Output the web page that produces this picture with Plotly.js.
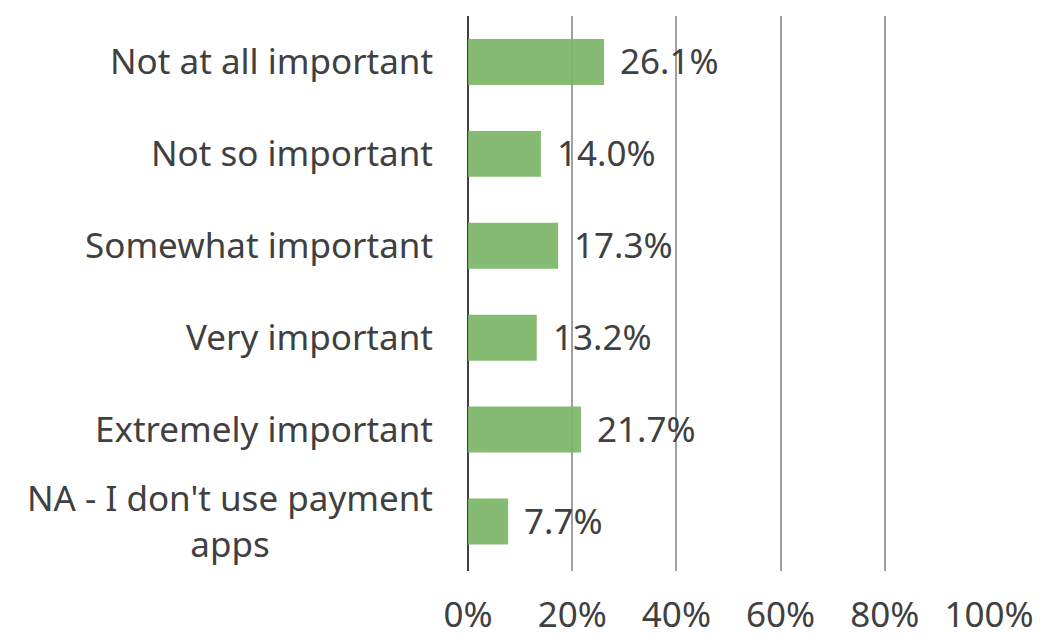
<!DOCTYPE html>
<html>
<head>
<meta charset="utf-8">
<script src="https://cdn.plot.ly/plotly-3.0.1.min.js"></script>
<style>html,body{margin:0;padding:0;background:#fff;}#chart{width:1040px;height:637px;}</style>
</head>
<body>
<div id="chart"></div>
<script>
const categories = ["Not at all important", "Not so important", "Somewhat important", "Very important", "Extremely important", "NA - I don't use payment<br>apps"];
const values = [26.1, 14.0, 17.3, 13.2, 21.7, 7.7];
const tickValues = [0, 20, 40, 60, 80, 100];
const tickLabels = ["0%", "20%", "40%", "60%", "80%", "100%"];

const FONT = "Tahoma, 'Noto Sans', 'DejaVu Sans', sans-serif";
const TXT = "#404040";
const FS = 35;

const trace = {
  type: "bar",
  orientation: "h",
  x: values,
  y: categories,
  marker: {color: "rgba(120,180,100,0.9)"},
  hoverinfo: "x+y"
};

const annotations = [];
values.forEach((v, i) => {
  annotations.push({
    x: v, y: categories[i], xref: "x", yref: "y",
    text: v.toFixed(1) + "%", showarrow: false,
    xanchor: "left", yanchor: "middle", xshift: 14, yshift: 1,
    font: {family: FONT, size: FS, color: TXT}
  });
  annotations.push({
    x: 0, y: categories[i], xref: "paper", yref: "y",
    text: categories[i], showarrow: false,
    xanchor: "right", yanchor: "middle", xshift: -33, yshift: 1, align: "center",
    font: {family: FONT, size: FS, color: TXT}
  });
});

const layout = {
  width: 1040, height: 637,
  margin: {l: 468, r: 51, t: 16, b: 66, pad: 0},
  paper_bgcolor: "#fff", plot_bgcolor: "#fff",
  showlegend: false,
  bargap: 0.5,
  font: {family: FONT, size: FS, color: TXT},
  xaxis: {
    range: [0, 100], tickvals: tickValues, ticktext: tickLabels,
    showgrid: true, gridcolor: "#A0A0A0", gridwidth: 2,
    zeroline: true, zerolinecolor: "#404040", zerolinewidth: 2,
    showline: false, ticks: "", ticklabelstandoff: 20,
    tickfont: {family: FONT, size: FS, color: TXT}, fixedrange: true
  },
  yaxis: {
    type: "category", autorange: "reversed",
    showticklabels: false, showgrid: false, zeroline: false, showline: false,
    ticks: "", fixedrange: true
  },
  annotations: annotations
};

Plotly.newPlot("chart", [trace], layout, {displayModeBar: false, staticPlot: true});
</script>
</body>
</html>
